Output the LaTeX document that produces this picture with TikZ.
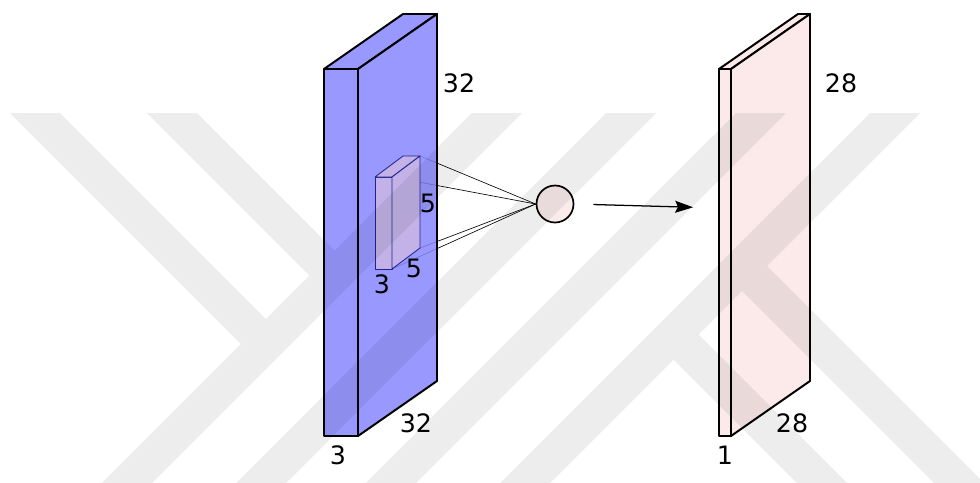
\documentclass[tikz,border=0pt]{standalone}
\usepackage{fontspec}
\setmainfont{DejaVu Sans}
\usetikzlibrary{arrows.meta}
\definecolor{inputblue}{RGB}{135,135,255}
\definecolor{kernelviolet}{RGB}{194,178,232}
\definecolor{kerneledge}{RGB}{34,34,140}
\definecolor{mappink}{RGB}{252,234,234}
\definecolor{neuronpink}{RGB}{251,236,236}

\begin{document}
\begin{tikzpicture}[x=0.025cm, y=-0.025cm, line join=round,
    face/.style={draw=black, line width=1.4pt},
    kface/.style={draw=kerneledge, line width=0.6pt, fill=kernelviolet},
    dim/.style={inner sep=0pt, font=\fontsize{18}{20}\selectfont},
    wire/.style={line width=0.45pt},
    flow/.style={line width=0.9pt, -{Stealth[length=12.8pt, width=8.5pt, inset=2pt]}}]
  \useasboundingbox (0,0) rectangle (980,482);
  \fill[white] (0,0) rectangle (980,482);

  % 5x5x3 kernel corners
  \coordinate (k-ftl) at (375,177);
  \coordinate (k-ftr) at (392,177);
  \coordinate (k-fbr) at (392,269);
  \coordinate (k-btl) at (403,156);
  \coordinate (k-btr) at (420,156);
  \coordinate (k-bbr) at (420,248);

  \node[circle, draw, line width=1.2pt, fill=neuronpink, minimum size=0.925cm, inner sep=0pt] (neuron) at (555,204) {};
  \foreach \c in {k-btr, k-ftr, k-bbr, k-fbr}
    \draw[wire] (\c) -- (neuron.west);

  % input volume 32x32x3
  \filldraw[face, fill=inputblue, fill opacity=0.85] (324,69) rectangle (358,436);
  \filldraw[face, fill=inputblue, fill opacity=0.85] (324,69) -- (403,14) -- (437,14) -- (358,69) -- cycle;
  \filldraw[face, fill=inputblue, fill opacity=0.85] (358,69) -- (437,14) -- (437,381) -- (358,436) -- cycle;

  \filldraw[kface] (k-ftl) rectangle (k-fbr);
  \filldraw[kface] (k-ftl) -- (k-btl) -- (k-btr) -- (k-ftr) -- cycle;
  \filldraw[kface] (k-ftr) -- (k-btr) -- (k-bbr) -- (k-fbr) -- cycle;

  % output map 28x28x1
  \filldraw[face, fill=mappink] (719,69) rectangle (731,436);
  \filldraw[face, fill=mappink] (719,69) -- (798,14) -- (810,14) -- (731,69) -- cycle;
  \filldraw[face, fill=mappink] (731,69) -- (810,14) -- (810,381) -- (731,436) -- cycle;
  \coordinate (map-in) at (719,208);

  \draw[flow, shorten <=13.5pt, shorten >=18.4pt] (neuron.east) -- (map-in);

  \node[dim] (in-h) at (459,83) {32};
  \node[dim] (in-w) at (416,423) {32};
  \node[dim] (in-d) at (338,455) {3};
  \node[dim] (k-h) at (428,203) {5};
  \node[dim] (k-w) at (414,268) {5};
  \node[dim] (k-d) at (382,284) {3};
  \node[dim] (out-h) at (841,83) {28};
  \node[dim] (out-w) at (792,423) {28};
  \node[dim] (out-d) at (725,455) {1};

  % faint diagonal bands laid over everything
  \fill[black, fill opacity=0.07]
    (472,113) -- (522,113) -- (138,497) -- (88,497) -- cycle
    (10,113) -- (60,113) -- (291,344) -- (266,369) -- cycle
    (147,113) -- (197,113) -- (359.5,275.5) -- (334.5,300.5) -- cycle
    (606,113) -- (656,113) -- (272,497) -- (222,497) -- cycle
    (536,497) -- (486,497) -- (870,113) -- (920,113) -- cycle
    (998,497) -- (948,497) -- (717,266) -- (742,241) -- cycle
    (861,497) -- (811,497) -- (648.5,334.5) -- (673.5,309.5) -- cycle
    (402,497) -- (352,497) -- (736,113) -- (786,113) -- cycle;
\end{tikzpicture}
\end{document}
